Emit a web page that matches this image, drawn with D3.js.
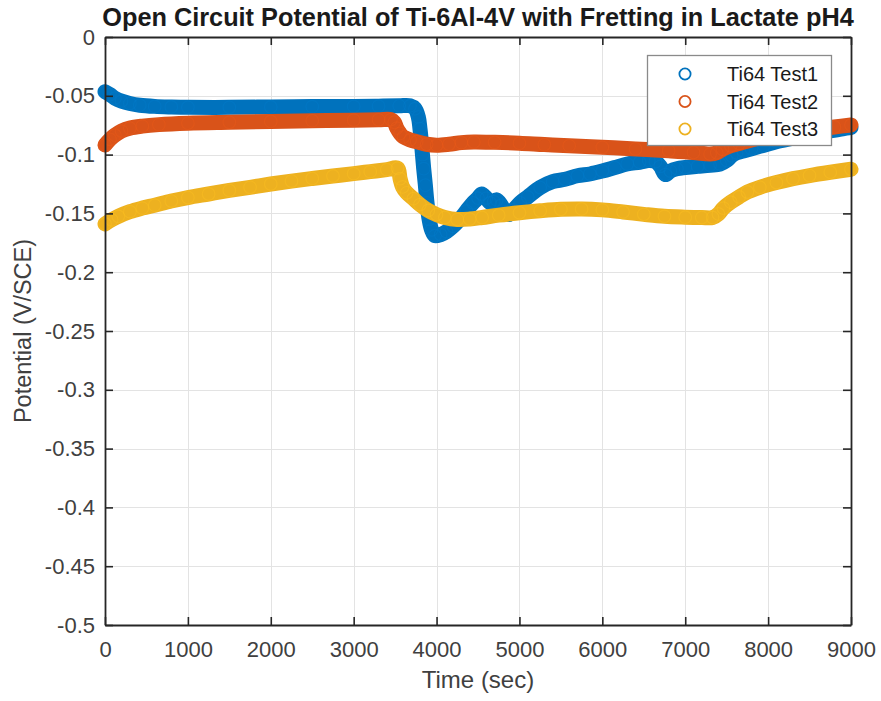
<!DOCTYPE html>
<html>
<head>
<meta charset="utf-8">
<script src="https://cdn.jsdelivr.net/npm/d3@7"></script>
<style>
  body { margin: 0; background: #fff; }
  svg { display: block; font-family: "Liberation Sans", Arial, Helvetica, sans-serif; }
</style>
</head>
<body>
<svg id="chart" width="881" height="701"></svg>
<script>
// Axis ticks
const xTicks = [0, 1000, 2000, 3000, 4000, 5000, 6000, 7000, 8000, 9000];
const yTicks = [0, -0.05, -0.1, -0.15, -0.2, -0.25, -0.3, -0.35, -0.4, -0.45, -0.5];
const yTickLabels = ["0", "-0.05", "-0.1", "-0.15", "-0.2", "-0.25", "-0.3", "-0.35", "-0.4", "-0.45", "-0.5"];

// Series
const seriesNames = ["Ti64 Test1", "Ti64 Test2", "Ti64 Test3"];
const seriesColors = ["#0072BD", "#D95319", "#EDB120"];

// Ti64 Test1: time (s) and open circuit potential (V/SCE)
const test1Time = [0, 60, 120, 200, 300, 420, 600, 800, 1000, 1500, 2000, 2500, 3000, 3300, 3550, 3680, 3740, 3780,
  3800, 3815, 3830, 3845, 3865, 3885, 3910, 3940, 3980, 4050, 4120, 4200, 4280, 4360, 4440, 4500, 4545, 4600,
  4645, 4690, 4726, 4780, 4830, 4870, 4930, 5008, 5100, 5250, 5400, 5550, 5700, 5850, 6000, 6150, 6300, 6450,
  6560, 6640, 6700, 6760, 6820, 6900, 7000, 7150, 7300, 7420, 7500, 7560, 7620, 7700, 7800, 7950, 8100, 8300,
  8500, 8700, 8900, 9000];
const test1Potential = [-0.0465, -0.049, -0.052, -0.0545, -0.0565, -0.058, -0.059, -0.0595, -0.0598, -0.0598, -0.0595, -0.0592, -0.059, -0.0588, -0.0585, -0.0585, -0.061, -0.068,
  -0.078, -0.088, -0.100, -0.112, -0.126, -0.141, -0.155, -0.164, -0.169, -0.168, -0.1655, -0.161, -0.155, -0.148, -0.141, -0.137, -0.1335, -0.137,
  -0.141, -0.140, -0.1385, -0.143, -0.149, -0.151, -0.147, -0.141, -0.136, -0.128, -0.123, -0.121, -0.118, -0.1165, -0.114, -0.111, -0.108, -0.1065,
  -0.105, -0.106, -0.110, -0.117, -0.114, -0.112, -0.111, -0.110, -0.109, -0.108, -0.105, -0.101, -0.0985, -0.097, -0.095, -0.092, -0.089, -0.086,
  -0.083, -0.0805, -0.078, -0.077];

// Ti64 Test2
const test2Time = [0, 60, 120, 200, 300, 450, 650, 1000, 1500, 2000, 2500, 3000, 3300, 3450, 3490, 3520, 3560, 3600, 3680,
  3760, 3880, 4000, 4150, 4300, 4450, 4700, 5000, 5300, 5600, 6000, 6400, 6800, 7100, 7300, 7380, 7450, 7550,
  7650, 7800, 8000, 8200, 8400, 8600, 8800, 9000];
const test2Potential = [-0.0918, -0.087, -0.0835, -0.080, -0.0775, -0.0758, -0.0745, -0.0733, -0.0725, -0.0718, -0.0712, -0.0707, -0.0704, -0.0702, -0.0725, -0.0775, -0.082, -0.085, -0.0875,
  -0.089, -0.0912, -0.092, -0.0912, -0.0898, -0.0893, -0.0896, -0.0903, -0.0915, -0.0925, -0.0938, -0.0952, -0.0968, -0.0982, -0.0995, -0.0985, -0.0955, -0.0925,
  -0.0905, -0.0875, -0.0845, -0.082, -0.0798, -0.0782, -0.0765, -0.0748];

// Ti64 Test3
const test3Time = [0, 80, 160, 300, 450, 600, 800, 1000, 1250, 1500, 1750, 2000, 2250, 2500, 2750, 3000, 3200, 3400, 3530,
  3560, 3590, 3640, 3720, 3800, 3900, 4000, 4100, 4250, 4400, 4550, 4750, 5000, 5250, 5500, 5750, 6000, 6250,
  6500, 6750, 7000, 7200, 7330, 7400, 7460, 7550, 7650, 7750, 7900, 8100, 8300, 8500, 8750, 9000];
const test3Potential = [-0.159, -0.1555, -0.1525, -0.1485, -0.1455, -0.143, -0.1395, -0.1365, -0.1335, -0.1305, -0.1278, -0.125, -0.1225, -0.1203, -0.1182, -0.1162, -0.1145, -0.1128, -0.1115,
  -0.1205, -0.1275, -0.1325, -0.1375, -0.1425, -0.1475, -0.151, -0.1535, -0.1552, -0.1548, -0.1535, -0.1515, -0.1495, -0.1478, -0.1465, -0.1462, -0.147, -0.1488,
  -0.1508, -0.1525, -0.1532, -0.1535, -0.1535, -0.1505, -0.1455, -0.1405, -0.136, -0.1318, -0.1278, -0.1238, -0.1205, -0.1178, -0.115, -0.1125];

const seriesTimes = [test1Time, test2Time, test3Time];
const seriesPotentials = [test1Potential, test2Potential, test3Potential];

const svg = d3.select("#chart");
const plot = { left: 105, right: 851, top: 37, bottom: 625 };

const x = d3.scaleLinear().domain([0, 9000]).range([plot.left, plot.right]);
const y = d3.scaleLinear().domain([-0.5, 0]).range([plot.bottom, plot.top]);

const axisColor = "#262626";
const tickTextColor = "#404040";

// Grid
const grid = svg.append("g").attr("stroke", "#e3e3e3").attr("stroke-width", 1);
grid.selectAll("line.vx").data(xTicks.slice(1, -1)).join("line")
  .attr("x1", d => Math.round(x(d)) + 0.5).attr("x2", d => Math.round(x(d)) + 0.5)
  .attr("y1", plot.top).attr("y2", plot.bottom);
grid.selectAll("line.hy").data(yTicks.slice(1, -1)).join("line")
  .attr("y1", d => Math.round(y(d)) + 0.5).attr("y2", d => Math.round(y(d)) + 0.5)
  .attr("x1", plot.left).attr("x2", plot.right);

// Series: dense open-circle markers, drawn as a thick band with a ring on each sample
const seriesG = svg.append("g");
seriesNames.forEach((name, i) => {
  const pts = seriesTimes[i].map((t, k) => [t, seriesPotentials[i][k]]);
  const g = seriesG.append("g");
  g.append("path").datum(pts)
    .attr("d", d3.line().x(d => x(d[0])).y(d => y(d[1])).curve(d3.curveCatmullRom.alpha(0.5)))
    .attr("fill", "none").attr("stroke", seriesColors[i]).attr("stroke-width", 15)
    .attr("stroke-linecap", "round").attr("stroke-linejoin", "round");
  g.selectAll("circle").data(pts).join("circle")
    .attr("cx", d => x(d[0])).attr("cy", d => y(d[1])).attr("r", 6.3)
    .attr("fill", "none").attr("stroke", d3.color(seriesColors[i]).brighter(0.25)).attr("stroke-opacity", 0.35)
    .attr("stroke-width", 1.2);
});

// Axes (ticks point inward, box on all four sides)
const tickLen = 8;
const fontTick = 22;
const axB = svg.append("g").attr("transform", `translate(0,${plot.bottom})`)
  .call(d3.axisBottom(x).tickValues(xTicks).tickSizeInner(-tickLen).tickSizeOuter(0).tickPadding(16).tickFormat(d3.format("d")));
const axT = svg.append("g").attr("transform", `translate(0,${plot.top})`)
  .call(d3.axisTop(x).tickValues(xTicks).tickSizeInner(-tickLen).tickSizeOuter(0).tickFormat(""));
const axL = svg.append("g").attr("transform", `translate(${plot.left},0)`)
  .call(d3.axisLeft(y).tickValues(yTicks).tickSizeInner(-tickLen).tickSizeOuter(0).tickPadding(10)
    .tickFormat((d, i) => yTickLabels[i]));
const axR = svg.append("g").attr("transform", `translate(${plot.right},0)`)
  .call(d3.axisRight(y).tickValues(yTicks).tickSizeInner(-tickLen).tickSizeOuter(0).tickFormat(""));

[axB, axT, axL, axR].forEach(a => {
  a.select(".domain").attr("stroke", axisColor).attr("stroke-width", 1.8);
  a.selectAll(".tick line").attr("stroke", axisColor).attr("stroke-width", 1.6);
  a.selectAll(".tick text").attr("fill", tickTextColor).attr("font-size", fontTick)
    .attr("font-family", "'Liberation Sans', Arial, sans-serif");
});
axB.selectAll(".tick text").attr("dy", "0.71em");

// Title and axis labels
svg.append("text").attr("x", (plot.left + plot.right) / 2).attr("y", 26)
  .attr("text-anchor", "middle").attr("font-weight", "bold").attr("font-size", 25.3)
  .attr("fill", "#1a1a1a").text("Open Circuit Potential of Ti-6Al-4V with Fretting in Lactate pH4");
svg.append("text").attr("x", (plot.left + plot.right) / 2).attr("y", 688)
  .attr("text-anchor", "middle").attr("font-size", 24).attr("fill", tickTextColor).text("Time (sec)");
svg.append("text").attr("transform", `translate(31,${(plot.top + plot.bottom) / 2}) rotate(-90)`)
  .attr("text-anchor", "middle").attr("font-size", 23.5).attr("fill", tickTextColor).text("Potential (V/SCE)");

// Legend
const legend = svg.append("g");
legend.append("rect").attr("x", 647.5).attr("y", 55.5).attr("width", 184).attr("height", 90)
  .attr("fill", "#fff").attr("stroke", "#8a8a8a").attr("stroke-width", 1.3);
seriesNames.forEach((name, i) => {
  const cy = 74 + i * 27.5;
  legend.append("circle").attr("cx", 685).attr("cy", cy).attr("r", 5.6)
    .attr("fill", "none").attr("stroke", seriesColors[i]).attr("stroke-width", 1.8);
  legend.append("text").attr("x", 727).attr("y", cy + 7).attr("font-size", 20)
    .attr("fill", "#1a1a1a").text(name);
});
</script>
</body>
</html>
